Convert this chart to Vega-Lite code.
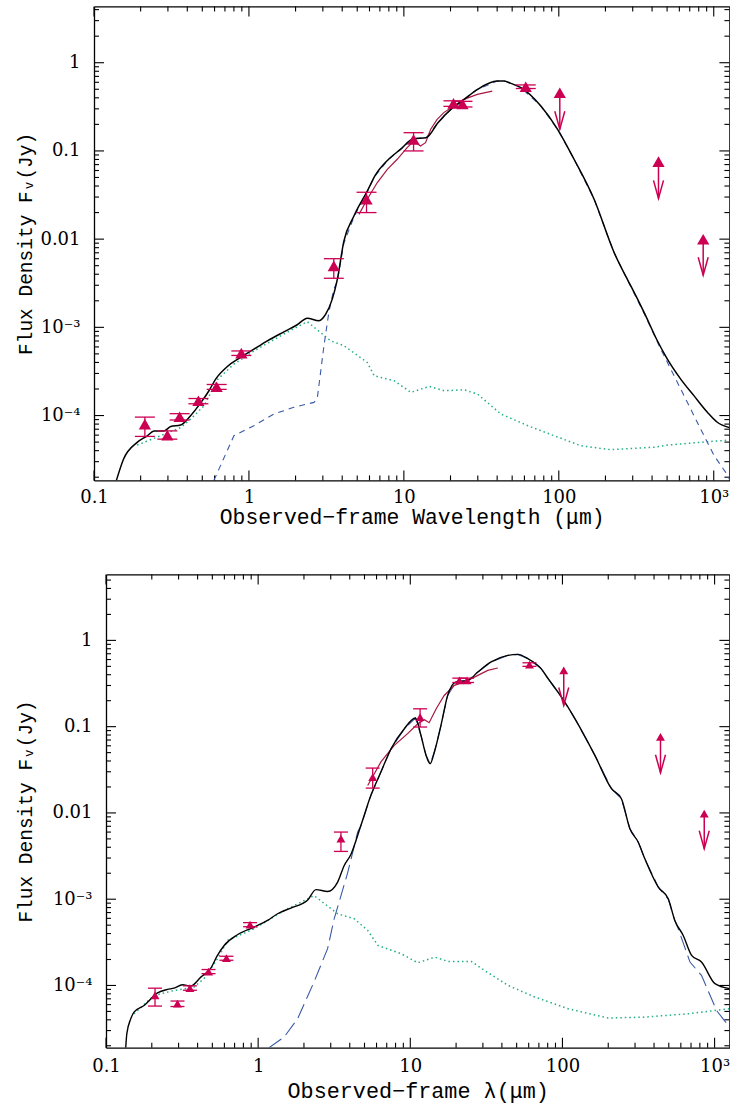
{
  "$schema": "https://vega.github.io/schema/vega-lite/v6.json",
  "background": "white",
  "padding": {"left": 15, "top": 6.4, "right": 0, "bottom": 4},
  "spacing": 46,
  "config": {
    "view": {"stroke": null},
    "axis": {
      "labelFont": "DejaVu Serif", "labelFontSize": 18, "labelColor": "black",
      "titleFont": "Liberation Mono", "titleFontWeight": "normal", "titleColor": "black",
      "domainColor": "black", "domainWidth": 1.3, "grid": false,
      "labelOverlap": false, "labelBound": false, "labelFlush": false
    }
  },
  "datasets": {
    "xt": [
      {"v":0.1,"k":"M"},{"v":0.2,"k":"m"},{"v":0.3,"k":"m"},{"v":0.4,"k":"m"},{"v":0.5,"k":"m"},{"v":0.6,"k":"m"},{"v":0.7,"k":"m"},{"v":0.8,"k":"m"},{"v":0.9,"k":"m"},
      {"v":1,"k":"M"},{"v":2,"k":"m"},{"v":3,"k":"m"},{"v":4,"k":"m"},{"v":5,"k":"m"},{"v":6,"k":"m"},{"v":7,"k":"m"},{"v":8,"k":"m"},{"v":9,"k":"m"},
      {"v":10,"k":"M"},{"v":20,"k":"m"},{"v":30,"k":"m"},{"v":40,"k":"m"},{"v":50,"k":"m"},{"v":60,"k":"m"},{"v":70,"k":"m"},{"v":80,"k":"m"},{"v":90,"k":"m"},
      {"v":100,"k":"M"},{"v":200,"k":"m"},{"v":300,"k":"m"},{"v":400,"k":"m"},{"v":500,"k":"m"},{"v":600,"k":"m"},{"v":700,"k":"m"},{"v":800,"k":"m"},{"v":900,"k":"m"},
      {"v":1000,"k":"M"}
    ],
    "yt_t": [
      {"v":2e-5,"k":"m"},{"v":3e-5,"k":"m"},{"v":4e-5,"k":"m"},{"v":5e-5,"k":"m"},{"v":6e-5,"k":"m"},{"v":7e-5,"k":"m"},{"v":8e-5,"k":"m"},{"v":9e-5,"k":"m"},
      {"v":0.0001,"k":"M"},{"v":0.0002,"k":"m"},{"v":0.0003,"k":"m"},{"v":0.0004,"k":"m"},{"v":0.0005,"k":"m"},{"v":0.0006,"k":"m"},{"v":0.0007,"k":"m"},{"v":0.0008,"k":"m"},{"v":0.0009,"k":"m"},
      {"v":0.001,"k":"M"},{"v":0.002,"k":"m"},{"v":0.003,"k":"m"},{"v":0.004,"k":"m"},{"v":0.005,"k":"m"},{"v":0.006,"k":"m"},{"v":0.007,"k":"m"},{"v":0.008,"k":"m"},{"v":0.009,"k":"m"},
      {"v":0.01,"k":"M"},{"v":0.02,"k":"m"},{"v":0.03,"k":"m"},{"v":0.04,"k":"m"},{"v":0.05,"k":"m"},{"v":0.06,"k":"m"},{"v":0.07,"k":"m"},{"v":0.08,"k":"m"},{"v":0.09,"k":"m"},
      {"v":0.1,"k":"M"},{"v":0.2,"k":"m"},{"v":0.3,"k":"m"},{"v":0.4,"k":"m"},{"v":0.5,"k":"m"},{"v":0.6,"k":"m"},{"v":0.7,"k":"m"},{"v":0.8,"k":"m"},{"v":0.9,"k":"m"},
      {"v":1,"k":"M"},{"v":2,"k":"m"},{"v":3,"k":"m"},{"v":4,"k":"m"}
    ],
    "yt_b": [
      {"v":2e-5,"k":"m"},{"v":3e-5,"k":"m"},{"v":4e-5,"k":"m"},{"v":5e-5,"k":"m"},{"v":6e-5,"k":"m"},{"v":7e-5,"k":"m"},{"v":8e-5,"k":"m"},{"v":9e-5,"k":"m"},
      {"v":0.0001,"k":"M"},{"v":0.0002,"k":"m"},{"v":0.0003,"k":"m"},{"v":0.0004,"k":"m"},{"v":0.0005,"k":"m"},{"v":0.0006,"k":"m"},{"v":0.0007,"k":"m"},{"v":0.0008,"k":"m"},{"v":0.0009,"k":"m"},
      {"v":0.001,"k":"M"},{"v":0.002,"k":"m"},{"v":0.003,"k":"m"},{"v":0.004,"k":"m"},{"v":0.005,"k":"m"},{"v":0.006,"k":"m"},{"v":0.007,"k":"m"},{"v":0.008,"k":"m"},{"v":0.009,"k":"m"},
      {"v":0.01,"k":"M"},{"v":0.02,"k":"m"},{"v":0.03,"k":"m"},{"v":0.04,"k":"m"},{"v":0.05,"k":"m"},{"v":0.06,"k":"m"},{"v":0.07,"k":"m"},{"v":0.08,"k":"m"},{"v":0.09,"k":"m"},
      {"v":0.1,"k":"M"},{"v":0.2,"k":"m"},{"v":0.3,"k":"m"},{"v":0.4,"k":"m"},{"v":0.5,"k":"m"},{"v":0.6,"k":"m"},{"v":0.7,"k":"m"},{"v":0.8,"k":"m"},{"v":0.9,"k":"m"},
      {"v":1,"k":"M"},{"v":2,"k":"m"},{"v":3,"k":"m"},{"v":4,"k":"m"},{"v":5,"k":"m"}
    ],
    "t_total": [
      {"lam":0.1395,"flux":1.84e-5},{"lam":0.155,"flux":3.2e-5},{"lam":0.19,"flux":4.97e-5},{"lam":0.221,"flux":5.9e-5},
      {"lam":0.244,"flux":6.7e-5},{"lam":0.283,"flux":6.7e-5},{"lam":0.313,"flux":7.5e-5},{"lam":0.362,"flux":7.8e-5},
      {"lam":0.42,"flux":9.96e-5},{"lam":0.488,"flux":1.39e-4},{"lam":0.552,"flux":1.91e-4},{"lam":0.61,"flux":2.59e-4},
      {"lam":0.726,"flux":3.6e-4},{"lam":0.884,"flux":4.56e-4},{"lam":1.077,"flux":5.66e-4},{"lam":1.315,"flux":7.03e-4},
      {"lam":1.68,"flux":8.89e-4},{"lam":2.05,"flux":1.07e-3},{"lam":2.38,"flux":1.27e-3},{"lam":2.83,"flux":1.19e-3},
      {"lam":3.13,"flux":1.41e-3},{"lam":3.45,"flux":2.09e-3},{"lam":3.72,"flux":3.5e-3},{"lam":4.1,"flux":0.0095},
      {"lam":4.76,"flux":0.0183},{"lam":5.85,"flux":0.036},{"lam":6.5,"flux":0.052},{"lam":7.83,"flux":0.078},
      {"lam":9.5,"flux":0.104},{"lam":11.6,"flux":0.138},{"lam":13.9,"flux":0.141},{"lam":16.6,"flux":0.209},
      {"lam":20.1,"flux":0.296},{"lam":24.5,"flux":0.384},{"lam":29.9,"flux":0.499},{"lam":40.0,"flux":0.619},
      {"lam":44.4,"flux":0.619},{"lam":49.0,"flux":0.583},{"lam":57.0,"flux":0.521},{"lam":76.6,"flux":0.323},
      {"lam":98.2,"flux":0.176},{"lam":125.7,"flux":0.08},{"lam":169,"flux":0.0283},{"lam":227.5,"flux":7.05e-3},
      {"lam":277,"flux":3.5e-3},{"lam":291.6,"flux":2.95e-3},{"lam":355.8,"flux":1.47e-3},{"lam":433.5,"flux":7.0e-4},
      {"lam":502,"flux":4.36e-4},{"lam":612,"flux":2.59e-4},{"lam":747,"flux":1.67e-4},{"lam":910,"flux":1.09e-4},
      {"lam":1054,"flux":8.4e-5},{"lam":1262,"flux":7.3e-5}
    ],
    "t_stellar": [
      {"lam":0.19,"flux":4.63e-5},{"lam":0.269,"flux":5.9e-5},{"lam":0.362,"flux":7.3e-5},{"lam":0.42,"flux":9.1e-5},
      {"lam":0.513,"flux":1.29e-4},{"lam":0.63,"flux":2.59e-4},{"lam":0.8,"flux":3.83e-4},{"lam":1.077,"flux":5.4e-4},
      {"lam":1.68,"flux":8.4e-4},{"lam":2.38,"flux":1.16e-3},{"lam":3.37,"flux":7.03e-4},{"lam":4.1,"flux":6.2e-4},
      {"lam":5.8,"flux":4.0e-4},{"lam":6.44,"flux":2.82e-4},{"lam":8.67,"flux":2.48e-4},{"lam":11.1,"flux":1.83e-4},
      {"lam":14.6,"flux":2.14e-4},{"lam":18.2,"flux":1.91e-4},{"lam":24.5,"flux":1.96e-4},{"lam":29.9,"flux":1.75e-4},
      {"lam":42.3,"flux":1.04e-4},{"lam":62.8,"flux":7.7e-5},{"lam":93.4,"flux":5.9e-5},{"lam":138.7,"flux":4.55e-5},
      {"lam":216,"flux":4.1e-5},{"lam":412,"flux":4.37e-5},{"lam":502,"flux":4.63e-5},{"lam":824,"flux":4.97e-5},
      {"lam":1262,"flux":5.28e-5}
    ],
    "t_dust": [
      {"lam":0.594,"flux":1.84e-5},{"lam":0.8,"flux":5.9e-5},{"lam":1.077,"flux":7.67e-5},{"lam":1.45,"flux":1.04e-4},
      {"lam":1.95,"flux":1.24e-4},{"lam":2.63,"flux":1.41e-4},{"lam":2.76,"flux":1.55e-4},{"lam":3.05,"flux":6.2e-4},
      {"lam":3.28,"flux":1.48e-3},{"lam":3.53,"flux":2.71e-3},{"lam":3.72,"flux":3.3e-3},{"lam":4.1,"flux":9.0e-3},
      {"lam":4.76,"flux":0.0178},{"lam":5.85,"flux":0.0356},{"lam":6.5,"flux":0.0517},{"lam":7.83,"flux":0.0777},
      {"lam":9.5,"flux":0.1038},{"lam":11.6,"flux":0.1378},{"lam":13.9,"flux":0.1408},{"lam":16.6,"flux":0.2088},
      {"lam":20.1,"flux":0.2958},{"lam":24.5,"flux":0.3838},{"lam":29.9,"flux":0.4988},{"lam":40.0,"flux":0.619},
      {"lam":44.4,"flux":0.619},{"lam":49.0,"flux":0.583},{"lam":57.0,"flux":0.521},{"lam":76.6,"flux":0.323},
      {"lam":98.2,"flux":0.176},{"lam":125.7,"flux":0.08},{"lam":169,"flux":0.0283},{"lam":227.5,"flux":7.0e-3},
      {"lam":277,"flux":3.46e-3},{"lam":355.8,"flux":1.43e-3},{"lam":455,"flux":5.66e-4},{"lam":555,"flux":2.82e-4},
      {"lam":676,"flux":1.41e-4},{"lam":824,"flux":7.0e-5},{"lam":1007,"flux":3.5e-5},{"lam":1195,"flux":2.27e-5},
      {"lam":1262,"flux":1.9e-5}
    ],
    "t_irs": [
      {"lam":5.13,"flux":0.0191},{"lam":5.8,"flux":0.0283},{"lam":6.74,"flux":0.0438},{"lam":7.82,"flux":0.0619},
      {"lam":9.06,"flux":0.0804},{"lam":10.5,"flux":0.109},{"lam":11.6,"flux":0.129},{"lam":12.8,"flux":0.114},
      {"lam":13.8,"flux":0.124},{"lam":14.9,"flux":0.176},{"lam":16.4,"flux":0.228},{"lam":18.1,"flux":0.272},
      {"lam":21.0,"flux":0.323},{"lam":24.4,"flux":0.384},{"lam":29.8,"flux":0.438},{"lam":37.2,"flux":0.477}
    ],
    "t_pts": [
      {"lam":0.213,"flux":8.0e-5,"lo":5.8e-5,"hi":9.6e-5},
      {"lam":0.2975,"flux":6.0e-5,"lo":5.4e-5,"hi":6.7e-5},
      {"lam":0.357,"flux":9.7e-5,"lo":8.9e-5,"hi":1.05e-4},
      {"lam":0.472,"flux":1.47e-4,"lo":1.36e-4,"hi":1.56e-4},
      {"lam":0.619,"flux":2.12e-4,"lo":1.98e-4,"hi":2.25e-4},
      {"lam":0.893,"flux":5.1e-4,"lo":4.8e-4,"hi":5.4e-4},
      {"lam":3.53,"flux":4.97e-3,"lo":3.6e-3,"hi":6.0e-3},
      {"lam":5.74,"flux":0.0283,"lo":0.020,"hi":0.034},
      {"lam":11.55,"flux":0.135,"lo":0.1,"hi":0.161},
      {"lam":20.9,"flux":0.346,"lo":0.32,"hi":0.37},
      {"lam":23.9,"flux":0.34,"lo":0.315,"hi":0.365},
      {"lam":61.2,"flux":0.535,"lo":0.51,"hi":0.56}
    ],
    "t_lim": [
      {"lam":101.5,"flux":0.457,"tip":0.176},
      {"lam":440,"flux":0.0757,"tip":0.029},
      {"lam":855,"flux":0.00997,"tip":0.0039}
    ],
    "b_total": [
      {"lam":0.1348,"flux":1.9e-5},{"lam":0.137,"flux":2.75e-5},{"lam":0.1454,"flux":4.1e-5},{"lam":0.1528,"flux":4.91e-5},
      {"lam":0.178,"flux":5.86e-5},{"lam":0.218,"flux":8.2e-5},{"lam":0.2535,"flux":9.0e-5},{"lam":0.28,"flux":9.3e-5},
      {"lam":0.318,"flux":1.02e-4},{"lam":0.3606,"flux":9.85e-5},{"lam":0.42,"flux":1.25e-4},{"lam":0.4886,"flux":1.59e-4},
      {"lam":0.54,"flux":2.23e-4},{"lam":0.598,"flux":2.91e-4},{"lam":0.731,"flux":3.87e-4},{"lam":0.941,"flux":4.75e-4},
      {"lam":1.153,"flux":5.68e-4},{"lam":1.342,"flux":6.78e-4},{"lam":1.642,"flux":7.9e-4},{"lam":2.11,"flux":9.7e-4},
      {"lam":2.4,"flux":1.29e-3},{"lam":2.86,"flux":1.23e-3},{"lam":3.33,"flux":1.58e-3},{"lam":3.68,"flux":2.46e-3},
      {"lam":4.07,"flux":3.3e-3},{"lam":4.74,"flux":7.2e-3},{"lam":5.51,"flux":0.016},{"lam":6.41,"flux":0.0298},
      {"lam":7.47,"flux":0.0555},{"lam":9.14,"flux":0.0947},{"lam":10.8,"flux":0.126},{"lam":11.75,"flux":0.0792},
      {"lam":12.7,"flux":0.0464},{"lam":13.5,"flux":0.0372},{"lam":14.4,"flux":0.0508},{"lam":15.9,"flux":0.103},
      {"lam":17.6,"flux":0.23},{"lam":20.0,"flux":0.33},{"lam":23.9,"flux":0.344},{"lam":27.8,"flux":0.43},
      {"lam":34.0,"flux":0.562},{"lam":43.7,"flux":0.67},{"lam":50.9,"flux":0.688},{"lam":59.2,"flux":0.614},
      {"lam":72.4,"flux":0.47},{"lam":80.5,"flux":0.36},{"lam":98.4,"flux":0.221},{"lam":120.7,"flux":0.124},
      {"lam":163.4,"flux":0.0464},{"lam":210,"flux":0.0191},{"lam":244,"flux":0.0146},{"lam":277.5,"flux":6.56e-3},
      {"lam":314.5,"flux":4.6e-3},{"lam":348,"flux":2.94e-3},{"lam":426.6,"flux":1.38e-3},{"lam":496,"flux":1.01e-3},
      {"lam":548,"flux":5.67e-4},{"lam":622,"flux":3.8e-4},{"lam":706,"flux":2.23e-4},{"lam":820,"flux":1.87e-4},
      {"lam":1006,"flux":1.05e-4},{"lam":1251,"flux":9.2e-5}
    ],
    "b_stellar": [
      {"lam":0.1528,"flux":4.7e-5},{"lam":0.207,"flux":7.66e-5},{"lam":0.28,"flux":8.75e-5},{"lam":0.379,"flux":9.57e-5},
      {"lam":0.44,"flux":1.2e-4},{"lam":0.54,"flux":2.04e-4},{"lam":0.63,"flux":3.33e-4},{"lam":0.941,"flux":4.54e-4},
      {"lam":1.48,"flux":7.4e-4},{"lam":2.33,"flux":1.1e-3},{"lam":3.33,"flux":6.78e-4},{"lam":4.28,"flux":5.93e-4},
      {"lam":5.25,"flux":4.35e-4},{"lam":6.13,"flux":2.91e-4},{"lam":8.73,"flux":2.33e-4},{"lam":11.2,"flux":1.83e-4},
      {"lam":14.5,"flux":2.13e-4},{"lam":17.7,"flux":1.9e-4},{"lam":25.2,"flux":1.9e-4},{"lam":30.8,"flux":1.49e-4},
      {"lam":44.0,"flux":1.0e-4},{"lam":65.8,"flux":7.34e-5},{"lam":109,"flux":5.37e-5},{"lam":200,"flux":4.19e-5},
      {"lam":348,"flux":4.3e-5},{"lam":671,"flux":4.7e-5},{"lam":1006,"flux":5.13e-5},{"lam":1251,"flux":5.37e-5}
    ],
    "b_dust": [
      {"lam":1.18,"flux":1.9e-5},{"lam":1.48,"flux":2.52e-5},{"lam":1.816,"flux":4.1e-5},{"lam":2.33,"flux":1.1e-4},
      {"lam":2.86,"flux":2.67e-4},{"lam":3.16,"flux":5.93e-4},{"lam":3.87,"flux":2.0e-3},{"lam":4.51,"flux":6.0e-3},
      {"lam":4.74,"flux":7.1e-3},{"lam":5.51,"flux":0.016},{"lam":6.41,"flux":0.0298},{"lam":7.47,"flux":0.0555},
      {"lam":9.14,"flux":0.0947},{"lam":10.8,"flux":0.126},{"lam":11.75,"flux":0.0792},{"lam":12.7,"flux":0.0464},
      {"lam":13.5,"flux":0.0372},{"lam":14.4,"flux":0.0508},{"lam":15.9,"flux":0.103},{"lam":17.6,"flux":0.23},
      {"lam":20.0,"flux":0.33},{"lam":23.9,"flux":0.344},{"lam":27.8,"flux":0.43},{"lam":34.0,"flux":0.562},
      {"lam":43.7,"flux":0.67},{"lam":50.9,"flux":0.688},{"lam":59.2,"flux":0.614},{"lam":72.4,"flux":0.47},
      {"lam":80.5,"flux":0.36},{"lam":98.4,"flux":0.221},{"lam":120.7,"flux":0.124},{"lam":163.4,"flux":0.0464},
      {"lam":210,"flux":0.0191},{"lam":244,"flux":0.0146},{"lam":277.5,"flux":6.56e-3},{"lam":314.5,"flux":4.6e-3},
      {"lam":348,"flux":2.94e-3},{"lam":426.6,"flux":1.38e-3},{"lam":496,"flux":1.0e-3},{"lam":548,"flux":5.6e-4},
      {"lam":577,"flux":4.54e-4},{"lam":689,"flux":1.87e-4},{"lam":820,"flux":1.31e-4},{"lam":955,"flux":7.0e-5},
      {"lam":1030,"flux":5.13e-5},{"lam":1230,"flux":3.44e-5},{"lam":1251,"flux":3.2e-5}
    ],
    "b_irs": [
      {"lam":5.25,"flux":0.0208},{"lam":6.41,"flux":0.039},{"lam":7.85,"flux":0.0606},{"lam":9.6,"flux":0.0829},
      {"lam":11.2,"flux":0.108},{"lam":12.4,"flux":0.12},{"lam":13.3,"flux":0.111},{"lam":14.8,"flux":0.161},
      {"lam":16.7,"flux":0.23},{"lam":19.5,"flux":0.301},{"lam":23.9,"flux":0.344},{"lam":27.8,"flux":0.393},
      {"lam":32.3,"flux":0.449},{"lam":37.6,"flux":0.479}
    ],
    "b_pts": [
      {"lam":0.21,"flux":7.66e-5,"lo":5.77e-5,"hi":9.3e-5},
      {"lam":0.295,"flux":6.14e-5,"lo":5.7e-5,"hi":6.6e-5},
      {"lam":0.356,"flux":9.33e-5,"lo":8.8e-5,"hi":9.9e-5},
      {"lam":0.472,"flux":1.45e-4,"lo":1.37e-4,"hi":1.53e-4},
      {"lam":0.619,"flux":2.07e-4,"lo":1.96e-4,"hi":2.18e-4},
      {"lam":0.885,"flux":5.06e-4,"lo":4.8e-4,"hi":5.35e-4},
      {"lam":3.5,"flux":5.02e-3,"lo":3.58e-3,"hi":6.0e-3},
      {"lam":5.66,"flux":0.026,"lo":0.0194,"hi":0.0331},
      {"lam":11.6,"flux":0.129,"lo":0.099,"hi":0.161},
      {"lam":21.0,"flux":0.344,"lo":0.325,"hi":0.365},
      {"lam":23.6,"flux":0.344,"lo":0.325,"hi":0.365},
      {"lam":60.7,"flux":0.523,"lo":0.5,"hi":0.55}
    ],
    "b_lim": [
      {"lam":102,"flux":0.449,"tip":0.176},
      {"lam":441,"flux":0.0759,"tip":0.0292},
      {"lam":855,"flux":0.0098,"tip":0.00385}
    ]
  },
  "vconcat": [
    {
      "width": 635.4,
      "height": 474,
      "layer": [
        {
          "data": {"name": "xt"}, "transform": [{"filter": "datum.k == 'M'"}],
          "mark": {"type": "tick", "orient": "vertical", "color": "black", "opacity": 1, "thickness": 1.1, "size": 10, "yOffset": -5},
          "encoding": {"x": {"field": "v", "type": "quantitative", "scale": {"type": "log", "domain": [0.1, 1262], "nice": false}, "axis": null},
                       "y": {"datum": 1.84e-5, "type": "quantitative", "scale": {"type": "log", "domain": [1.84e-5, 4.35], "nice": false}, "axis": null}}
        },
        {
          "data": {"name": "xt"}, "transform": [{"filter": "datum.k == 'm'"}],
          "mark": {"type": "tick", "orient": "vertical", "color": "black", "opacity": 1, "thickness": 1.1, "size": 5, "yOffset": -2.5},
          "encoding": {"x": {"field": "v", "type": "quantitative", "scale": {"type": "log", "domain": [0.1, 1262], "nice": false}, "axis": null},
                       "y": {"datum": 1.84e-5, "type": "quantitative", "scale": {"type": "log", "domain": [1.84e-5, 4.35], "nice": false}, "axis": null}}
        },
        {
          "data": {"name": "xt"}, "transform": [{"filter": "datum.k == 'M'"}],
          "mark": {"type": "tick", "orient": "vertical", "color": "black", "opacity": 1, "thickness": 1.1, "size": 10, "yOffset": 5},
          "encoding": {"x": {"field": "v", "type": "quantitative", "scale": {"type": "log", "domain": [0.1, 1262], "nice": false}, "axis": null},
                       "y": {"datum": 4.35, "type": "quantitative", "scale": {"type": "log", "domain": [1.84e-5, 4.35], "nice": false}, "axis": null}}
        },
        {
          "data": {"name": "xt"}, "transform": [{"filter": "datum.k == 'm'"}],
          "mark": {"type": "tick", "orient": "vertical", "color": "black", "opacity": 1, "thickness": 1.1, "size": 5, "yOffset": 2.5},
          "encoding": {"x": {"field": "v", "type": "quantitative", "scale": {"type": "log", "domain": [0.1, 1262], "nice": false}, "axis": null},
                       "y": {"datum": 4.35, "type": "quantitative", "scale": {"type": "log", "domain": [1.84e-5, 4.35], "nice": false}, "axis": null}}
        },
        {
          "data": {"name": "yt_t"}, "transform": [{"filter": "datum.k == 'M'"}],
          "mark": {"type": "tick", "orient": "horizontal", "color": "black", "opacity": 1, "thickness": 1.1, "size": 10, "xOffset": 5},
          "encoding": {"x": {"datum": 0.1, "type": "quantitative", "scale": {"type": "log", "domain": [0.1, 1262], "nice": false}, "axis": null},
                       "y": {"field": "v", "type": "quantitative", "scale": {"type": "log", "domain": [1.84e-5, 4.35], "nice": false}, "axis": null}}
        },
        {
          "data": {"name": "yt_t"}, "transform": [{"filter": "datum.k == 'm'"}],
          "mark": {"type": "tick", "orient": "horizontal", "color": "black", "opacity": 1, "thickness": 1.1, "size": 5, "xOffset": 2.5},
          "encoding": {"x": {"datum": 0.1, "type": "quantitative", "scale": {"type": "log", "domain": [0.1, 1262], "nice": false}, "axis": null},
                       "y": {"field": "v", "type": "quantitative", "scale": {"type": "log", "domain": [1.84e-5, 4.35], "nice": false}, "axis": null}}
        },
        {
          "data": {"name": "yt_t"}, "transform": [{"filter": "datum.k == 'M'"}],
          "mark": {"type": "tick", "orient": "horizontal", "color": "black", "opacity": 1, "thickness": 1.1, "size": 10, "xOffset": -5},
          "encoding": {"x": {"datum": 1262, "type": "quantitative", "scale": {"type": "log", "domain": [0.1, 1262], "nice": false}, "axis": null},
                       "y": {"field": "v", "type": "quantitative", "scale": {"type": "log", "domain": [1.84e-5, 4.35], "nice": false}, "axis": null}}
        },
        {
          "data": {"name": "yt_t"}, "transform": [{"filter": "datum.k == 'm'"}],
          "mark": {"type": "tick", "orient": "horizontal", "color": "black", "opacity": 1, "thickness": 1.1, "size": 5, "xOffset": -2.5},
          "encoding": {"x": {"datum": 1262, "type": "quantitative", "scale": {"type": "log", "domain": [0.1, 1262], "nice": false}, "axis": null},
                       "y": {"field": "v", "type": "quantitative", "scale": {"type": "log", "domain": [1.84e-5, 4.35], "nice": false}, "axis": null}}
        },
        {
          "data": {"name": "t_stellar"},
          "mark": {"type": "line", "color": "#1fae86", "strokeWidth": 1.5, "strokeDash": [1.5, 3], "clip": true},
          "encoding": {
            "x": {"field": "lam", "type": "quantitative", "scale": {"type": "log", "domain": [0.1, 1262], "nice": false},
              "axis": {"orient": "top", "labels": false, "ticks": false, "tickSize": 0, "domain": true, "title": null, "values": [0.1, 1000]}},
            "y": {"field": "flux", "type": "quantitative", "scale": {"type": "log", "domain": [1.84e-5, 4.35], "nice": false},
              "axis": {"orient": "right", "labels": false, "ticks": false, "tickSize": 0, "domain": true, "title": null, "values": [0.0001, 1]}}
          }
        },
        {
          "data": {"name": "t_dust"},
          "mark": {"type": "line", "color": "#3a5aa6", "strokeWidth": 1.1, "strokeDash": [6, 5], "clip": true},
          "encoding": {
            "x": {"field": "lam", "type": "quantitative", "scale": {"type": "log", "domain": [0.1, 1262], "nice": false}, "axis": null},
            "y": {"field": "flux", "type": "quantitative", "scale": {"type": "log", "domain": [1.84e-5, 4.35], "nice": false}, "axis": null}
          }
        },
        {
          "data": {"name": "t_irs"},
          "mark": {"type": "line", "color": "#a8183f", "strokeWidth": 1.2, "clip": true},
          "encoding": {
            "x": {"field": "lam", "type": "quantitative", "scale": {"type": "log", "domain": [0.1, 1262], "nice": false}, "axis": null},
            "y": {"field": "flux", "type": "quantitative", "scale": {"type": "log", "domain": [1.84e-5, 4.35], "nice": false}, "axis": null}
          }
        },
        {
          "data": {"name": "t_total"},
          "mark": {"type": "line", "color": "black", "strokeWidth": 1.5, "clip": true, "interpolate": "monotone"},
          "encoding": {
            "x": {"field": "lam", "type": "quantitative", "scale": {"type": "log", "domain": [0.1, 1262], "nice": false},
              "axis": {"orient": "bottom", "title": "Observed−frame Wavelength (μm)", "titleFontSize": 21.4, "titlePadding": 0,
                "ticks": false, "tickSize": 0, "labelPadding": 8, "domain": true,
                "values": [0.1, 1, 10, 100, 1000],
                "labelExpr": "datum.value == 0.1 ? '0.1' : datum.value == 1 ? '1' : datum.value == 10 ? '10' : datum.value == 100 ? '100' : '10³'"}},
            "y": {"field": "flux", "type": "quantitative", "scale": {"type": "log", "domain": [1.84e-5, 4.35], "nice": false},
              "axis": {"orient": "left", "title": "Flux Density Fᵥ(Jy)", "titleFontSize": 19.5, "titlePadding": 4.3,
                "ticks": false, "tickSize": 0, "labelPadding": 14, "domain": true,
                "values": [0.0001, 0.001, 0.01, 0.1, 1],
                "labelExpr": "datum.value == 1 ? '1' : datum.value == 0.1 ? '0.1' : datum.value == 0.01 ? '0.01' : datum.value == 0.001 ? '10⁻³' : '10⁻⁴'"}}
          }
        },
        {
          "data": {"name": "t_pts"},
          "mark": {"type": "rule", "color": "#cc0052", "strokeWidth": 1.3},
          "encoding": {
            "x": {"field": "lam", "type": "quantitative", "scale": {"type": "log", "domain": [0.1, 1262], "nice": false}, "axis": null},
            "y": {"field": "lo", "type": "quantitative", "scale": {"type": "log", "domain": [1.84e-5, 4.35], "nice": false}, "axis": null},
            "y2": {"field": "hi"}
          }
        },
        {
          "data": {"name": "t_pts"},
          "mark": {"type": "tick", "orient": "horizontal", "color": "#cc0052", "opacity": 1, "thickness": 1.3, "size": 20},
          "encoding": {
            "x": {"field": "lam", "type": "quantitative", "scale": {"type": "log", "domain": [0.1, 1262], "nice": false}, "axis": null},
            "y": {"field": "lo", "type": "quantitative", "scale": {"type": "log", "domain": [1.84e-5, 4.35], "nice": false}, "axis": null}
          }
        },
        {
          "data": {"name": "t_pts"},
          "mark": {"type": "tick", "orient": "horizontal", "color": "#cc0052", "opacity": 1, "thickness": 1.3, "size": 20},
          "encoding": {
            "x": {"field": "lam", "type": "quantitative", "scale": {"type": "log", "domain": [0.1, 1262], "nice": false}, "axis": null},
            "y": {"field": "hi", "type": "quantitative", "scale": {"type": "log", "domain": [1.84e-5, 4.35], "nice": false}, "axis": null}
          }
        },
        {
          "data": {"name": "t_pts"},
          "mark": {"type": "point", "shape": "triangle-up", "filled": true, "color": "#cc0052", "size": 150, "opacity": 1},
          "encoding": {
            "x": {"field": "lam", "type": "quantitative", "scale": {"type": "log", "domain": [0.1, 1262], "nice": false}, "axis": null},
            "y": {"field": "flux", "type": "quantitative", "scale": {"type": "log", "domain": [1.84e-5, 4.35], "nice": false}, "axis": null}
          }
        },
        {
          "data": {"name": "t_lim"},
          "mark": {"type": "rule", "color": "#cc0052", "strokeWidth": 1.5},
          "encoding": {
            "x": {"field": "lam", "type": "quantitative", "scale": {"type": "log", "domain": [0.1, 1262], "nice": false}, "axis": null},
            "y": {"field": "flux", "type": "quantitative", "scale": {"type": "log", "domain": [1.84e-5, 4.35], "nice": false}, "axis": null},
            "y2": {"field": "tip"}
          }
        },
        {
          "data": {"name": "t_lim"},
          "mark": {"type": "point", "shape": "triangle-up", "filled": true, "color": "#cc0052", "size": 150, "opacity": 1},
          "encoding": {
            "x": {"field": "lam", "type": "quantitative", "scale": {"type": "log", "domain": [0.1, 1262], "nice": false}, "axis": null},
            "y": {"field": "flux", "type": "quantitative", "scale": {"type": "log", "domain": [1.84e-5, 4.35], "nice": false}, "axis": null}
          }
        },
        {
          "data": {"name": "t_lim"},
          "mark": {"type": "point", "shape": "M-1,-3.6L0,0L1,-3.6", "filled": false, "color": "#cc0052", "strokeWidth": 1.5, "size": 100, "opacity": 1},
          "encoding": {
            "x": {"field": "lam", "type": "quantitative", "scale": {"type": "log", "domain": [0.1, 1262], "nice": false}, "axis": null},
            "y": {"field": "tip", "type": "quantitative", "scale": {"type": "log", "domain": [1.84e-5, 4.35], "nice": false}, "axis": null}
          }
        }
      ],
      "resolve": {"axis": {"x": "independent", "y": "independent"}}
    },
    {
      "width": 635.4,
      "height": 473.3,
      "layer": [
        {
          "data": {"name": "xt"}, "transform": [{"filter": "datum.k == 'M'"}],
          "mark": {"type": "tick", "orient": "vertical", "color": "black", "opacity": 1, "thickness": 1.1, "size": 10, "yOffset": -5},
          "encoding": {"x": {"field": "v", "type": "quantitative", "scale": {"type": "log", "domain": [0.1, 1251], "range": [12, 635.4], "nice": false}, "axis": null},
                       "y": {"datum": 1.9e-5, "type": "quantitative", "scale": {"type": "log", "domain": [1.9e-5, 5.82], "nice": false}, "axis": null}}
        },
        {
          "data": {"name": "xt"}, "transform": [{"filter": "datum.k == 'm'"}],
          "mark": {"type": "tick", "orient": "vertical", "color": "black", "opacity": 1, "thickness": 1.1, "size": 5, "yOffset": -2.5},
          "encoding": {"x": {"field": "v", "type": "quantitative", "scale": {"type": "log", "domain": [0.1, 1251], "range": [12, 635.4], "nice": false}, "axis": null},
                       "y": {"datum": 1.9e-5, "type": "quantitative", "scale": {"type": "log", "domain": [1.9e-5, 5.82], "nice": false}, "axis": null}}
        },
        {
          "data": {"name": "xt"}, "transform": [{"filter": "datum.k == 'M'"}],
          "mark": {"type": "tick", "orient": "vertical", "color": "black", "opacity": 1, "thickness": 1.1, "size": 10, "yOffset": 5},
          "encoding": {"x": {"field": "v", "type": "quantitative", "scale": {"type": "log", "domain": [0.1, 1251], "range": [12, 635.4], "nice": false}, "axis": null},
                       "y": {"datum": 5.82, "type": "quantitative", "scale": {"type": "log", "domain": [1.9e-5, 5.82], "nice": false}, "axis": null}}
        },
        {
          "data": {"name": "xt"}, "transform": [{"filter": "datum.k == 'm'"}],
          "mark": {"type": "tick", "orient": "vertical", "color": "black", "opacity": 1, "thickness": 1.1, "size": 5, "yOffset": 2.5},
          "encoding": {"x": {"field": "v", "type": "quantitative", "scale": {"type": "log", "domain": [0.1, 1251], "range": [12, 635.4], "nice": false}, "axis": null},
                       "y": {"datum": 5.82, "type": "quantitative", "scale": {"type": "log", "domain": [1.9e-5, 5.82], "nice": false}, "axis": null}}
        },
        {
          "data": {"name": "yt_b"}, "transform": [{"filter": "datum.k == 'M'"}],
          "mark": {"type": "tick", "orient": "horizontal", "color": "black", "opacity": 1, "thickness": 1.1, "size": 10, "xOffset": 5},
          "encoding": {"x": {"datum": 0.1, "type": "quantitative", "scale": {"type": "log", "domain": [0.1, 1251], "range": [12, 635.4], "nice": false}, "axis": null},
                       "y": {"field": "v", "type": "quantitative", "scale": {"type": "log", "domain": [1.9e-5, 5.82], "nice": false}, "axis": null}}
        },
        {
          "data": {"name": "yt_b"}, "transform": [{"filter": "datum.k == 'm'"}],
          "mark": {"type": "tick", "orient": "horizontal", "color": "black", "opacity": 1, "thickness": 1.1, "size": 5, "xOffset": 2.5},
          "encoding": {"x": {"datum": 0.1, "type": "quantitative", "scale": {"type": "log", "domain": [0.1, 1251], "range": [12, 635.4], "nice": false}, "axis": null},
                       "y": {"field": "v", "type": "quantitative", "scale": {"type": "log", "domain": [1.9e-5, 5.82], "nice": false}, "axis": null}}
        },
        {
          "data": {"name": "yt_b"}, "transform": [{"filter": "datum.k == 'M'"}],
          "mark": {"type": "tick", "orient": "horizontal", "color": "black", "opacity": 1, "thickness": 1.1, "size": 10, "xOffset": -5},
          "encoding": {"x": {"datum": 1251, "type": "quantitative", "scale": {"type": "log", "domain": [0.1, 1251], "range": [12, 635.4], "nice": false}, "axis": null},
                       "y": {"field": "v", "type": "quantitative", "scale": {"type": "log", "domain": [1.9e-5, 5.82], "nice": false}, "axis": null}}
        },
        {
          "data": {"name": "yt_b"}, "transform": [{"filter": "datum.k == 'm'"}],
          "mark": {"type": "tick", "orient": "horizontal", "color": "black", "opacity": 1, "thickness": 1.1, "size": 5, "xOffset": -2.5},
          "encoding": {"x": {"datum": 1251, "type": "quantitative", "scale": {"type": "log", "domain": [0.1, 1251], "range": [12, 635.4], "nice": false}, "axis": null},
                       "y": {"field": "v", "type": "quantitative", "scale": {"type": "log", "domain": [1.9e-5, 5.82], "nice": false}, "axis": null}}
        },
        {
          "data": {"name": "b_stellar"},
          "mark": {"type": "line", "color": "#1fae86", "strokeWidth": 1.5, "strokeDash": [1.5, 3], "clip": true},
          "encoding": {
            "x": {"field": "lam", "type": "quantitative", "scale": {"type": "log", "domain": [0.1, 1251], "range": [12, 635.4], "nice": false},
              "axis": {"orient": "top", "labels": false, "ticks": false, "tickSize": 0, "domain": true, "title": null, "values": [0.1, 1000]}},
            "y": {"field": "flux", "type": "quantitative", "scale": {"type": "log", "domain": [1.9e-5, 5.82], "nice": false},
              "axis": {"orient": "right", "labels": false, "ticks": false, "tickSize": 0, "domain": true, "title": null, "values": [0.0001, 1]}}
          }
        },
        {
          "data": {"name": "b_dust"},
          "mark": {"type": "line", "color": "#3a5aa6", "strokeWidth": 1.1, "strokeDash": [15, 6], "clip": true},
          "encoding": {
            "x": {"field": "lam", "type": "quantitative", "scale": {"type": "log", "domain": [0.1, 1251], "range": [12, 635.4], "nice": false}, "axis": null},
            "y": {"field": "flux", "type": "quantitative", "scale": {"type": "log", "domain": [1.9e-5, 5.82], "nice": false}, "axis": null}
          }
        },
        {
          "data": {"name": "b_irs"},
          "mark": {"type": "line", "color": "#a8183f", "strokeWidth": 1.2, "clip": true},
          "encoding": {
            "x": {"field": "lam", "type": "quantitative", "scale": {"type": "log", "domain": [0.1, 1251], "range": [12, 635.4], "nice": false}, "axis": null},
            "y": {"field": "flux", "type": "quantitative", "scale": {"type": "log", "domain": [1.9e-5, 5.82], "nice": false}, "axis": null}
          }
        },
        {
          "data": {"name": "b_total"},
          "mark": {"type": "line", "color": "black", "strokeWidth": 1.4, "clip": true, "interpolate": "monotone"},
          "encoding": {
            "x": {"field": "lam", "type": "quantitative", "scale": {"type": "log", "domain": [0.1, 1251], "range": [12, 635.4], "nice": false},
              "axis": {"orient": "bottom", "title": "Observed−frame λ(μm)", "titleFontSize": 21.8, "titlePadding": 5,
                "ticks": false, "tickSize": 0, "labelPadding": 10, "domain": true,
                "values": [0.1, 1, 10, 100, 1000],
                "labelExpr": "datum.value == 0.1 ? '0.1' : datum.value == 1 ? '1' : datum.value == 10 ? '10' : datum.value == 100 ? '100' : '10³'"}},
            "y": {"field": "flux", "type": "quantitative", "scale": {"type": "log", "domain": [1.9e-5, 5.82], "nice": false},
              "axis": {"orient": "left", "offset": -12, "title": "Flux Density Fᵥ(Jy)", "titleFontSize": 19.5, "titlePadding": 16.3,
                "ticks": false, "tickSize": 0, "labelPadding": 14, "domain": true,
                "values": [0.0001, 0.001, 0.01, 0.1, 1],
                "labelExpr": "datum.value == 1 ? '1' : datum.value == 0.1 ? '0.1' : datum.value == 0.01 ? '0.01' : datum.value == 0.001 ? '10⁻³' : '10⁻⁴'"}}
          }
        },
        {
          "data": {"name": "b_pts"},
          "mark": {"type": "rule", "color": "#cc0052", "strokeWidth": 1.3},
          "encoding": {
            "x": {"field": "lam", "type": "quantitative", "scale": {"type": "log", "domain": [0.1, 1251], "range": [12, 635.4], "nice": false}, "axis": null},
            "y": {"field": "lo", "type": "quantitative", "scale": {"type": "log", "domain": [1.9e-5, 5.82], "nice": false}, "axis": null},
            "y2": {"field": "hi"}
          }
        },
        {
          "data": {"name": "b_pts"},
          "mark": {"type": "tick", "orient": "horizontal", "color": "#cc0052", "opacity": 1, "thickness": 1.3, "size": 14},
          "encoding": {
            "x": {"field": "lam", "type": "quantitative", "scale": {"type": "log", "domain": [0.1, 1251], "range": [12, 635.4], "nice": false}, "axis": null},
            "y": {"field": "lo", "type": "quantitative", "scale": {"type": "log", "domain": [1.9e-5, 5.82], "nice": false}, "axis": null}
          }
        },
        {
          "data": {"name": "b_pts"},
          "mark": {"type": "tick", "orient": "horizontal", "color": "#cc0052", "opacity": 1, "thickness": 1.3, "size": 14},
          "encoding": {
            "x": {"field": "lam", "type": "quantitative", "scale": {"type": "log", "domain": [0.1, 1251], "range": [12, 635.4], "nice": false}, "axis": null},
            "y": {"field": "hi", "type": "quantitative", "scale": {"type": "log", "domain": [1.9e-5, 5.82], "nice": false}, "axis": null}
          }
        },
        {
          "data": {"name": "b_pts"},
          "mark": {"type": "point", "shape": "triangle-up", "filled": true, "color": "#cc0052", "size": 80, "opacity": 1},
          "encoding": {
            "x": {"field": "lam", "type": "quantitative", "scale": {"type": "log", "domain": [0.1, 1251], "range": [12, 635.4], "nice": false}, "axis": null},
            "y": {"field": "flux", "type": "quantitative", "scale": {"type": "log", "domain": [1.9e-5, 5.82], "nice": false}, "axis": null}
          }
        },
        {
          "data": {"name": "b_lim"},
          "mark": {"type": "rule", "color": "#cc0052", "strokeWidth": 1.5},
          "encoding": {
            "x": {"field": "lam", "type": "quantitative", "scale": {"type": "log", "domain": [0.1, 1251], "range": [12, 635.4], "nice": false}, "axis": null},
            "y": {"field": "flux", "type": "quantitative", "scale": {"type": "log", "domain": [1.9e-5, 5.82], "nice": false}, "axis": null},
            "y2": {"field": "tip"}
          }
        },
        {
          "data": {"name": "b_lim"},
          "mark": {"type": "point", "shape": "triangle-up", "filled": true, "color": "#cc0052", "size": 80, "opacity": 1},
          "encoding": {
            "x": {"field": "lam", "type": "quantitative", "scale": {"type": "log", "domain": [0.1, 1251], "range": [12, 635.4], "nice": false}, "axis": null},
            "y": {"field": "flux", "type": "quantitative", "scale": {"type": "log", "domain": [1.9e-5, 5.82], "nice": false}, "axis": null}
          }
        },
        {
          "data": {"name": "b_lim"},
          "mark": {"type": "point", "shape": "M-1,-3.6L0,0L1,-3.6", "filled": false, "color": "#cc0052", "strokeWidth": 1.5, "size": 100, "opacity": 1},
          "encoding": {
            "x": {"field": "lam", "type": "quantitative", "scale": {"type": "log", "domain": [0.1, 1251], "range": [12, 635.4], "nice": false}, "axis": null},
            "y": {"field": "tip", "type": "quantitative", "scale": {"type": "log", "domain": [1.9e-5, 5.82], "nice": false}, "axis": null}
          }
        }
      ],
      "resolve": {"axis": {"x": "independent", "y": "independent"}}
    }
  ]
}
